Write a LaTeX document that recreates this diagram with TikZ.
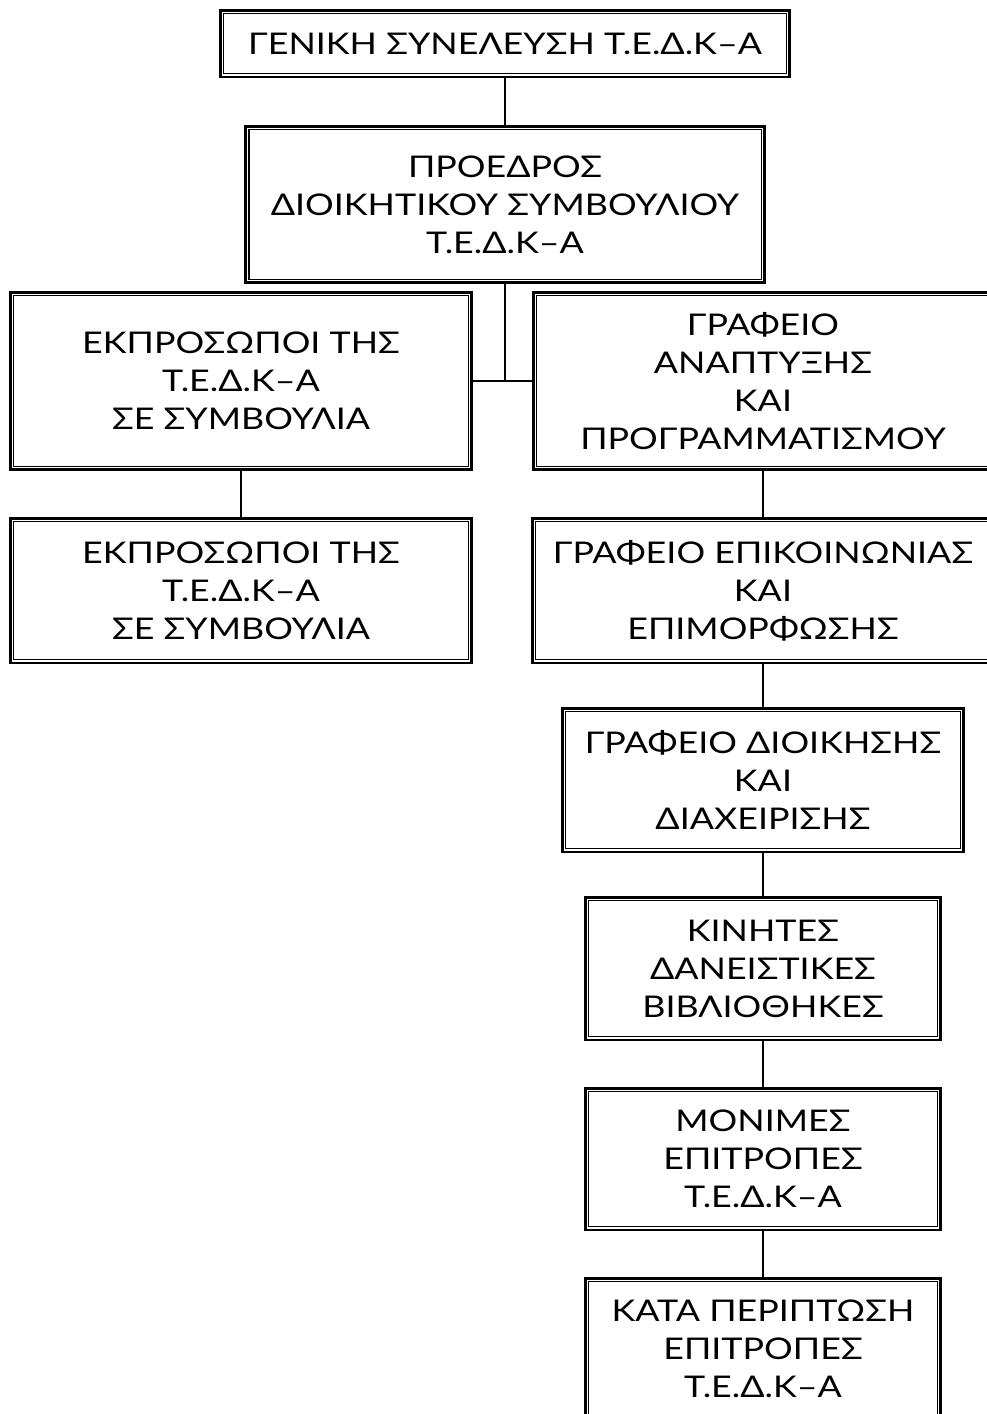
\documentclass[tikz,border=0pt]{standalone}
\usepackage{fontspec}
\setmainfont{Lato}[FakeStretch=1.2]
\begin{document}
\begin{tikzpicture}[x=0.02cm,y=-0.02cm,
	unitbox/.style={draw,line width=1.7pt,align=center,inner sep=0pt,
		font=\fontsize{17}{21.6}\selectfont},
	link/.style={line width=1.1pt}]
	\useasboundingbox (0,0) rectangle (987,1414);

	\node[unitbox,minimum width=11.4cm,minimum height=1.34cm] (gen) at (505,43.5) {ΓΕΝΙΚΗ ΣΥΝΕΛΕΥΣΗ Τ.Ε.Δ.Κ–Α};
	\node[unitbox,minimum width=10.38cm,minimum height=3.14cm] (pres) at (505,204.5) {ΠΡΟΕΔΡΟΣ\\ΔΙΟΙΚΗΤΙΚΟΥ ΣΥΜΒΟΥΛΙΟΥ\\Τ.Ε.Δ.Κ–Α};
	\node[unitbox,minimum width=9.24cm,minimum height=3.56cm] (repa) at (241,381) {ΕΚΠΡΟΣΩΠΟΙ ΤΗΣ\\Τ.Ε.Δ.Κ–Α\\ΣΕ ΣΥΜΒΟΥΛΙΑ};
	\node[unitbox,minimum width=9.2cm,minimum height=3.56cm] (anapt) at (763,381) {ΓΡΑΦΕΙΟ\\ΑΝΑΠΤΥΞΗΣ\\ΚΑΙ\\ΠΡΟΓΡΑΜΜΑΤΙΣΜΟΥ};
	\node[unitbox,minimum width=9.24cm,minimum height=2.9cm] (repb) at (241,590.5) {ΕΚΠΡΟΣΩΠΟΙ ΤΗΣ\\Τ.Ε.Δ.Κ–Α\\ΣΕ ΣΥΜΒΟΥΛΙΑ};
	\node[unitbox,minimum width=9.24cm,minimum height=2.9cm] (epik) at (763,590.5) {ΓΡΑΦΕΙΟ ΕΠΙΚΟΙΝΩΝΙΑΣ\\ΚΑΙ\\ΕΠΙΜΟΡΦΩΣΗΣ};
	\node[unitbox,minimum width=8.02cm,minimum height=2.88cm] (dioik) at (763,780) {ΓΡΑΦΕΙΟ ΔΙΟΙΚΗΣΗΣ\\ΚΑΙ\\ΔΙΑΧΕΙΡΙΣΗΣ};
	\node[unitbox,minimum width=7.1cm,minimum height=2.86cm] (kin) at (763,968.5) {ΚΙΝΗΤΕΣ\\ΔΑΝΕΙΣΤΙΚΕΣ\\ΒΙΒΛΙΟΘΗΚΕΣ};
	\node[unitbox,minimum width=7.1cm,minimum height=2.84cm] (mon) at (763,1159) {ΜΟΝΙΜΕΣ\\ΕΠΙΤΡΟΠΕΣ\\Τ.Ε.Δ.Κ–Α};
	\node[unitbox,minimum width=7.1cm,minimum height=2.84cm] (kata) at (763,1349) {ΚΑΤΑ ΠΕΡΙΠΤΩΣΗ\\ΕΠΙΤΡΟΠΕΣ\\Τ.Ε.Δ.Κ–Α};

	\foreach \n in {gen,pres,repa,anapt,repb,epik,dioik,kin,mon,kata}
		\draw[line width=0.6pt] ([shift={(2.8pt,2.8pt)}]\n.south west) rectangle ([shift={(-2.8pt,-2.8pt)}]\n.north east);

	\coordinate (jun) at (505,381);
	\draw[link] (gen) -- (pres);
	\draw[link] (pres) -- (jun);
	\draw[link] (repa.east) -- (anapt.west);
	\draw[link] (repa) -- (repb);
	\draw[link] (anapt) -- (epik) -- (dioik) -- (kin) -- (mon) -- (kata);
\end{tikzpicture}
\end{document}
